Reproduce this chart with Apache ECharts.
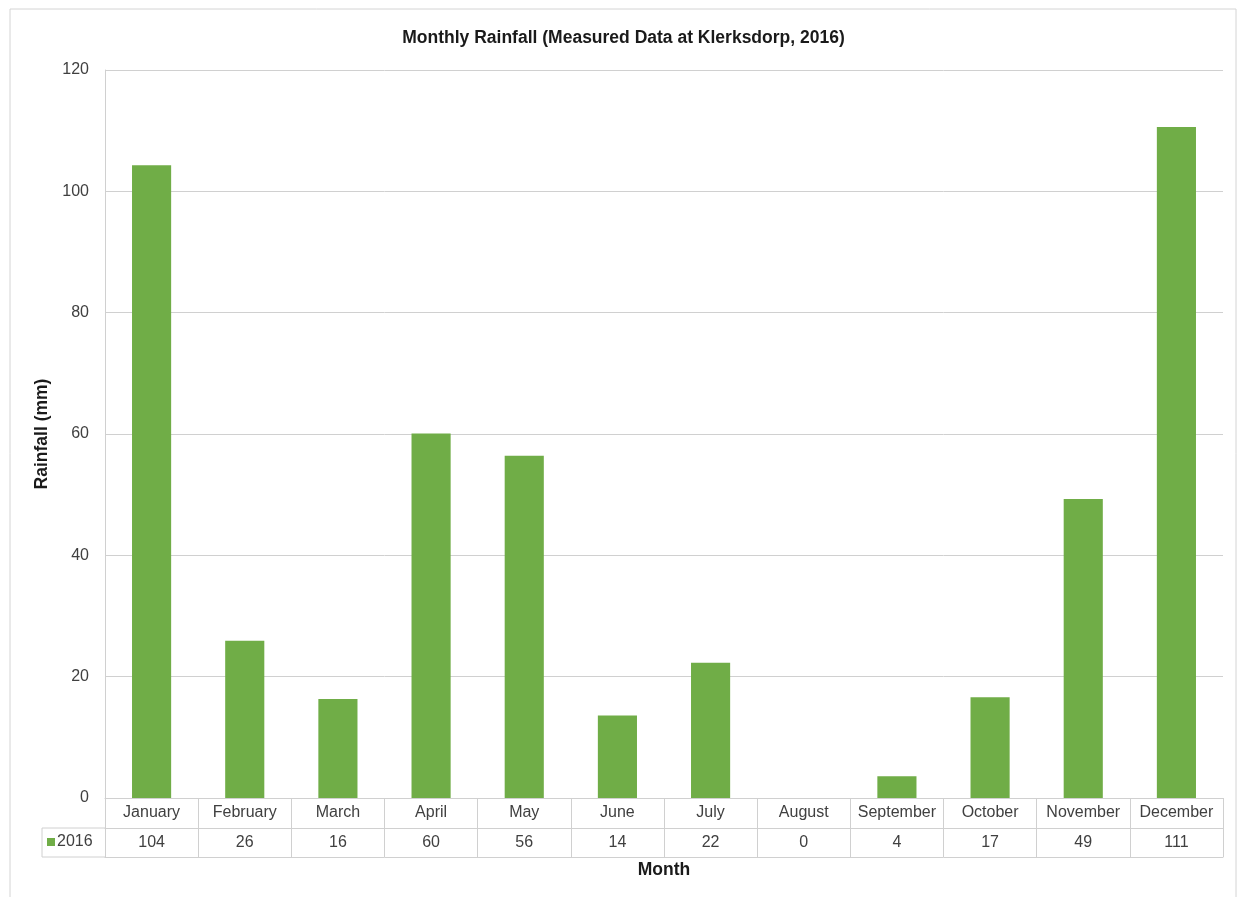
<!DOCTYPE html>
<html>
<head>
<meta charset="utf-8">
<title>Monthly Rainfall</title>
<script src="https://cdn.jsdelivr.net/npm/echarts@6/dist/echarts.min.js"></script>
<style>
  html, body { margin: 0; padding: 0; background: #fff; }
  #chart { width: 1247px; height: 897px; }
</style>
</head>
<body>
<div id="chart"></div>
<script>
// data
var months = ['January', 'February', 'March', 'April', 'May', 'June',
  'July', 'August', 'September', 'October', 'November', 'December']
var rainfall = [104.3, 25.9, 16.3, 60.1, 56.4, 13.6, 22.3, 0, 3.6, 16.6, 49.3, 110.6]
var tableLabels = ['104', '26', '16', '60', '56', '14', '22', '0', '4', '17', '49', '111']
var seriesName = '2016'

var font = '"Liberation Sans", Arial, sans-serif'
var textColor = '#404040'
var lineColor = '#d0d0d0'

var chart = echarts.init(document.getElementById('chart'))

var gridLeft = 105
var gridTop = 70
var gridRight = 24
var gridBottom = 99
var rowH = 30

chart.setOption({
  animation: false,
  textStyle: { fontFamily: font },
  title: {
    text: 'Monthly Rainfall (Measured Data at Klerksdorp, 2016)',
    left: 'center',
    top: 24,
    textStyle: { fontSize: 17.5, fontWeight: 'bold', color: '#1a1a1a', fontFamily: font }
  },
  legend: {
    data: [seriesName],
    left: 47,
    top: 897 - gridBottom + rowH + 6,
    icon: 'rect',
    itemWidth: 8,
    itemHeight: 8,
    itemGap: 2,
    padding: 0,
    textStyle: { fontSize: 16, color: textColor, padding: [0, 0, 0, -3] }
  },
  grid: { left: gridLeft, right: gridRight, top: gridTop, bottom: gridBottom },
  xAxis: [
    {
      type: 'category',
      data: months,
      position: 'bottom',
      axisLine: { show: true, lineStyle: { color: lineColor } },
      axisTick: { show: true, interval: 0, length: rowH * 2 - 1, lineStyle: { color: lineColor } },
      axisLabel: { interval: 0, margin: 7, fontSize: 16, color: textColor }
    },
    {
      type: 'category',
      data: months,
      position: 'bottom',
      offset: rowH,
      axisLine: { show: true, lineStyle: { color: lineColor } },
      axisTick: { show: false },
      axisLabel: {
        interval: 0, margin: 7, fontSize: 16, color: textColor,
        formatter: function (v, i) { return tableLabels[i] }
      }
    },
    {
      type: 'category',
      data: months,
      position: 'bottom',
      offset: rowH * 2 - 1,
      axisLine: { show: true, lineStyle: { color: lineColor } },
      axisTick: { show: false },
      axisLabel: { show: false },
      name: 'Month',
      nameLocation: 'middle',
      nameGap: 4,
      nameTextStyle: { fontSize: 17.5, fontWeight: 'bold', color: '#1a1a1a' }
    }
  ],
  yAxis: {
    type: 'value',
    min: 0,
    max: 120,
    interval: 20,
    name: 'Rainfall (mm)',
    nameLocation: 'middle',
    nameRotate: 90,
    nameGap: 48,
    nameTextStyle: { fontSize: 17.5, fontWeight: 'bold', color: '#1a1a1a' },
    axisLine: { show: true, lineStyle: { color: lineColor } },
    axisTick: { show: false },
    axisLabel: { fontSize: 16, color: textColor, margin: 16 },
    splitLine: { lineStyle: { color: lineColor } }
  },
  series: [
    {
      name: seriesName,
      type: 'bar',
      data: rainfall,
      barWidth: '42%',
      itemStyle: { color: '#70ad47' }
    }
  ],
  graphic: [
    {
      type: 'rect',
      silent: true,
      shape: { x: 10, y: 9, width: 1226, height: 900 },
      style: { fill: 'none', stroke: '#d4d4d4', lineWidth: 1 }
    },
    {
      type: 'polyline',
      silent: true,
      shape: {
        points: [
          [gridLeft, 897 - gridBottom + rowH],
          [42, 897 - gridBottom + rowH],
          [42, 897 - gridBottom + rowH * 2 - 1],
          [gridLeft, 897 - gridBottom + rowH * 2 - 1]
        ]
      },
      style: { fill: 'none', stroke: lineColor, lineWidth: 1 }
    }
  ]
})
</script>
</body>
</html>
